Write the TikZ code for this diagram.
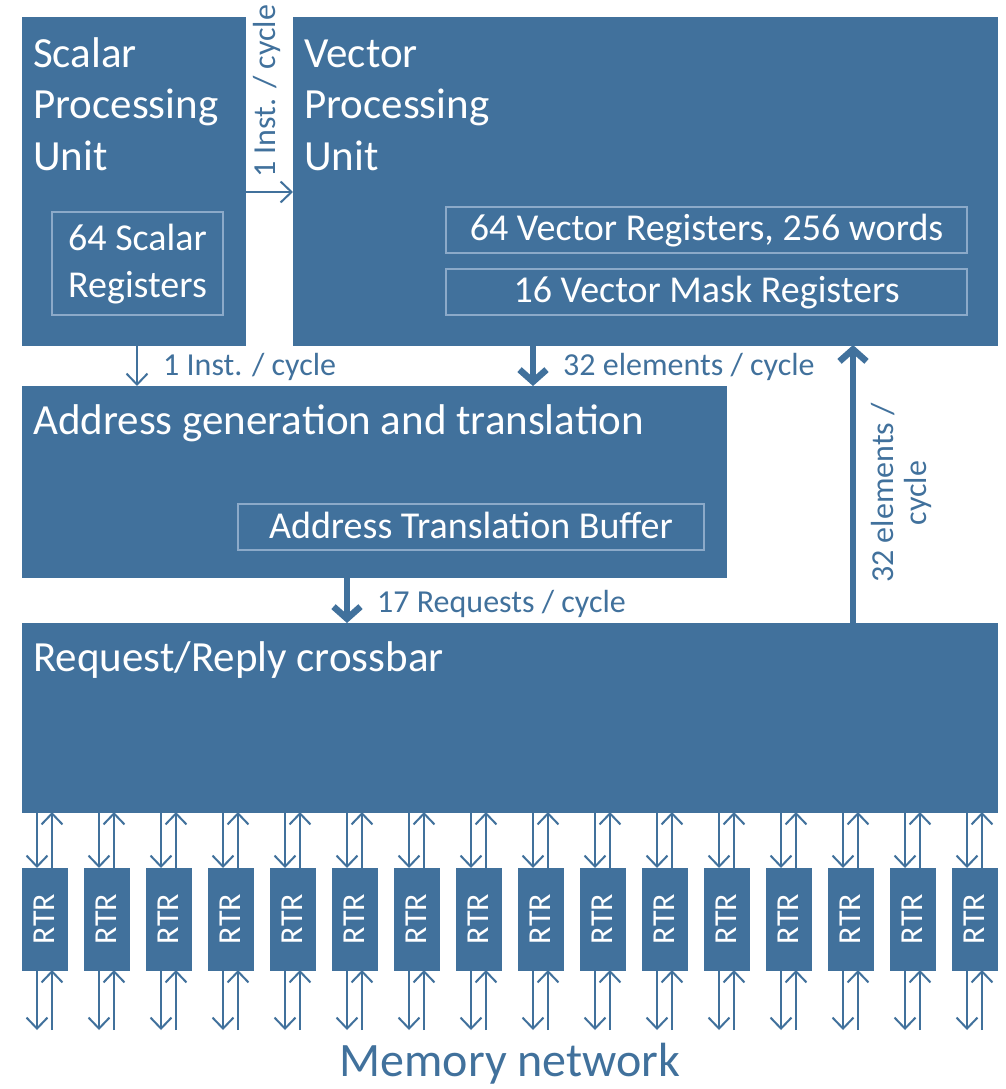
\documentclass[tikz,border=0pt]{standalone}
\usepackage{fontspec}
\setmainfont{Carlito}
\usetikzlibrary{arrows.meta,calc}
\definecolor{unitblue}{RGB}{65,113,156}
\definecolor{frameblue}{RGB}{140,170,201}
\newcommand{\fsz}[2]{\fontsize{#1}{#2}\selectfont}
\begin{document}
\begin{tikzpicture}[x=1pt,y=-1pt,
  unit/.style={fill=unitblue, draw=unitblue, line width=0.5pt, anchor=north west, inner sep=0pt, outer sep=0pt},
  regbox/.style={draw=frameblue, line width=1.2pt, anchor=north west, inner sep=0pt, outer sep=0pt},
  title/.style={text=white, anchor=base west, inner sep=0pt, font=\fsz{43}{51.5}, align=left},
  regtext/.style={text=white, anchor=base, inner sep=0pt, font=\fsz{38}{47}, align=center},
  flow/.style={text=unitblue, anchor=base west, inner sep=0pt, font=\fsz{32}{38}},
  rtrtext/.style={text=white, rotate=90, inner sep=0pt, font=\fsz{32}{36}},
  thinarrow/.style={draw=unitblue, line width=2pt, -{Straight Barb[length=11pt,width=21pt]}},
  thickarrow/.style={draw=unitblue, line width=6.5pt, line cap=round, line join=round, -{Straight Barb[length=12pt,width=27pt]}}
]
\useasboundingbox (0,0) rectangle (1005,1089);
\clip (0,0) rectangle (1005,1089);

% processing units and their register files
\node[unit, minimum width=223pt, minimum height=328pt] (spu) at (22,17) {};
\node[unit, minimum width=704pt, minimum height=328pt] (vpu) at (293,17) {};
\node[regbox, minimum width=171pt, minimum height=103pt] (sreg) at (52,212) {};
\node[regbox, minimum width=521pt, minimum height=46pt] (vreg) at (446,207) {};
\node[regbox, minimum width=521pt, minimum height=46pt] (vmask) at (446,269) {};

% address unit and crossbar
\node[unit, minimum width=704pt, minimum height=191pt] (addr) at (22,386) {};
\node[regbox, minimum width=466pt, minimum height=46pt] (atb) at (238,504) {};
\node[unit, minimum width=975pt, minimum height=189pt] (xbar) at (22,623) {};

% block titles (multi-line nodes sit on the baseline of their last line)
\node[title] (spu-t) at (33,170) {Scalar\\Processing\\Unit};
\node[title] (vpu-t) at (304,170) {Vector\\Processing\\Unit};
\node[title] (addr-t) at (33,434) {Address generation and translation};
\node[title] (xbar-t) at (33,671) {Request/Reply crossbar};
\node[regtext] (sreg-t) at (137.5,297) {64 Scalar\\Registers};
\node[regtext] (vreg-t) at (706.5,240) {64 Vector Registers, 256 words};
\node[regtext] (vmask-t) at (706.5,302) {16 Vector Mask Registers};
\node[regtext] (atb-t) at (471,538) {Address Translation Buffer};

% data-path arrows
\coordinate (a0) at ($(spu.north east)+(0,175)$);
\coordinate (a1) at ($(spu.south west)+(115,0)$);
\coordinate (a2) at ($(vpu.south west)+(240,0)$);
\coordinate (a3) at ($(addr.south west)+(325,0)$);
\coordinate (a4) at ($(xbar.north west)+(831,0)$);
\draw[thinarrow] (a0) -- (a0 -| vpu.west);
\draw[thinarrow] (a1) -- (a1 |- addr.north);
\draw[thickarrow] (a2) -- (a2 |- addr.north);
\draw[thickarrow] (a3) -- (a3 |- xbar.north);
\draw[thickarrow] (a4) -- (a4 |- vpu.south);

% bandwidth labels
\node[flow, rotate=90] (l0) at (275,178) {1 Inst. / cycle};
\node[flow] (l1) at (163,375) {1 Inst. / cycle};
\node[flow] (l2) at (563,375) {32 elements / cycle};
\node[flow] (l3) at (377,612) {17 Requests / cycle};
\node[flow, rotate=90, anchor=center, align=center, font=\fsz{32}{33}] (l4) at (901,493) {32 elements /\\cycle};

% routers between crossbar and memory network
\coordinate (net) at (0,1030);
\foreach \i in {0,...,15}{
  \node[unit, minimum width=45pt, minimum height=102pt] (r\i) at ({22+62*\i},868) {};
  \node[rtrtext] (rt\i) at (r\i.center) {RTR};
  \coordinate (dn\i) at ($(r\i.north west)+(15,0)$);
  \coordinate (up\i) at ($(r\i.north west)+(30,0)$);
  \coordinate (ldn\i) at ($(r\i.south west)+(15,0)$);
  \coordinate (lup\i) at ($(r\i.south west)+(30,0)$);
  \draw[thinarrow] (dn\i |- xbar.south) -- (dn\i);
  \draw[thinarrow] (up\i) -- (up\i |- xbar.south);
  \draw[thinarrow] (ldn\i) -- (ldn\i |- net);
  \draw[thinarrow] (lup\i |- net) -- (lup\i);
}

\node[flow, anchor=base, font=\fsz{48}{58}] (mem) at (510,1076) {Memory network};
\end{tikzpicture}
\end{document}
